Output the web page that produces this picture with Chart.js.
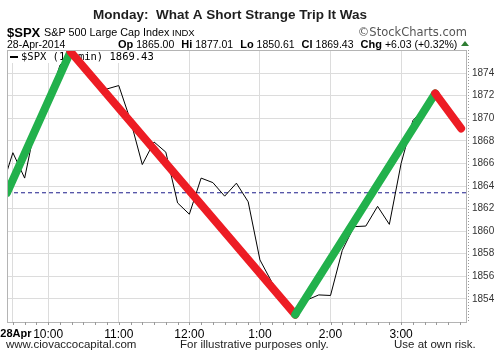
<!DOCTYPE html>
<html>
<head>
<meta charset="utf-8">
<script src="https://cdn.jsdelivr.net/npm/chart.js@4"></script>
<style>
  html, body { margin: 0; padding: 0; background: #fff; }
  #wrap { width: 499px; height: 358px; }
</style>
</head>
<body>
<div id="wrap"><canvas id="spx" width="499" height="358"></canvas></div>
<script>
// 10-min bars, x = minutes after 9:30
const barMinutes = [-5, 0, 10, 20, 30, 40, 50, 60, 70, 80, 90, 100, 110, 120, 130, 140, 150, 160, 170, 180,
  190, 200, 210, 220, 230, 240, 250, 260, 270, 280, 290, 300, 310, 320, 330, 340, 350, 360, 370, 380];
const barCloses = [1865.3, 1866.95, 1864.7, 1869.8, 1871.3, 1874.7, 1875.8, 1874.6, 1873.4, 1872.6,
  1872.9, 1869.8, 1865.9, 1867.9, 1867.0, 1862.5, 1861.5, 1864.7, 1864.3, 1863.1,
  1864.25, 1862.6, 1857.45, 1855.5, 1854.0, 1852.7, 1853.9, 1854.35, 1854.3, 1858.3,
  1860.4, 1860.45, 1862.2, 1860.6, 1866.0, 1869.8, 1870.9, 1871.7, 1870.6, 1869.43];

// hand drawn swing legs (green = up, red = down)
const swingMinutes = [-5, 49, 240, 359, 381];
const swingValues = [1863.4, 1875.9, 1852.6, 1872.2, 1869.1];

const prevClose = 1863.40;

const xTickMinutes = [0, 30, 90, 150, 210, 270, 330];
const xTickLabels = ["28Apr", "10:00", "11:00", "12:00", "1:00", "2:00", "3:00"];
const yTicks = [1854, 1856, 1858, 1860, 1862, 1864, 1866, 1868, 1870, 1872, 1874];

const xMin = -5, xMax = 386;
const yMin = 1851.95, yMax = 1876.05;

const title = "Monday:  What A Short Strange Trip It Was";
const statLabels = ["Op", "Hi", "Lo", "Cl", "Chg"];
const statValues = ["1865.00", "1877.01", "1850.61", "1869.43", "+6.03 (+0.32%)"];
const legendText = "$SPX (10-min) 1869.43";
const footer = ["www.ciovaccocapital.com", "For illustrative purposes only.", "Use at own risk."];

const SANS = '"Liberation Sans", Arial, sans-serif';

const toPoints = (xs, ys) => xs.map((x, i) => ({ x: x, y: ys[i] }));

const decorations = {
  id: "decorations",
  beforeDatasetsDraw(chart) {
    const { ctx, chartArea: a } = chart;
    ctx.save();
    ctx.font = '10.5px "DejaVu Sans Mono", monospace';
    const w = ctx.measureText(legendText).width;
    ctx.fillStyle = "#fff";
    ctx.fillRect(a.left + 1, a.top + 1, w + 18, 12);
    ctx.fillStyle = "#000";
    ctx.fillRect(a.left + 3, a.top + 6, 8, 2);
    ctx.textBaseline = "middle";
    ctx.fillText(legendText, a.left + 14, a.top + 7);
    ctx.restore();
  },
  afterDraw(chart) {
    const { ctx, chartArea: a } = chart;
    const xs = chart.scales.x;
    ctx.save();

    // plot frame
    ctx.strokeStyle = "#b4b4b4";
    ctx.lineWidth = 1;
    ctx.strokeRect(a.left + 0.5, a.top + 0.5, a.right - a.left - 1, a.bottom - a.top);

    // minor ticks under the time axis
    ctx.strokeStyle = "#999";
    ctx.beginPath();
    barMinutes.forEach(m => {
      if (m < 0) return;
      const px = Math.round(xs.getPixelForValue(m)) + 0.5;
      ctx.moveTo(px, a.bottom);
      ctx.lineTo(px, a.bottom + 3);
    });
    ctx.stroke();

    // dotted edge on the price side
    ctx.setLineDash([1, 2]);
    ctx.beginPath();
    ctx.moveTo(a.right + 1.5, a.top);
    ctx.lineTo(a.right + 1.5, a.bottom);
    ctx.stroke();
    ctx.setLineDash([]);

    // title
    ctx.fillStyle = "#1e1e1e";
    ctx.textBaseline = "alphabetic";
    ctx.textAlign = "center";
    ctx.font = "bold 13.5px " + SANS;
    ctx.fillText(title, 230, 19);

    // symbol line
    ctx.textAlign = "left";
    ctx.fillStyle = "#000";
    ctx.font = "bold 13px " + SANS;
    ctx.fillText("$SPX", 7, 37);
    ctx.font = "10.8px " + SANS;
    ctx.fillText("S&P 500 Large Cap Index", 44, 36);
    ctx.font = "9.5px " + SANS;
    ctx.fillText("INDX", 172, 36);

    ctx.fillStyle = "#555";
    ctx.font = '11.5px "DejaVu Sans", sans-serif';
    ctx.textAlign = "right";
    ctx.fillText("\u00A9StockCharts.com", 467, 36);

    // date + stats line
    ctx.textAlign = "left";
    ctx.fillStyle = "#000";
    ctx.font = "10.5px " + SANS;
    ctx.fillText("28-Apr-2014", 7, 48);
    let x = 118;
    statLabels.forEach((lab, i) => {
      ctx.font = "bold 11px " + SANS;
      ctx.fillText(lab, x, 48);
      x += ctx.measureText(lab).width + 3;
      ctx.font = "10.5px " + SANS;
      ctx.fillText(statValues[i], x, 48);
      x += ctx.measureText(statValues[i]).width + 7;
    });
    ctx.fillStyle = "#2e7d32";
    ctx.beginPath();
    ctx.moveTo(461, 46);
    ctx.lineTo(465, 41);
    ctx.lineTo(469, 46);
    ctx.closePath();
    ctx.fill();

    // footer
    ctx.fillStyle = "#222";
    ctx.font = "11.5px " + SANS;
    ctx.fillText(footer[0], 6, 348);
    ctx.fillText(footer[1], 180, 348);
    ctx.fillText(footer[2], 394, 348);
    ctx.restore();
  }
};

new Chart(document.getElementById("spx"), {
  type: "line",
  data: {
    datasets: [
      {
        label: "swing",
        data: toPoints(swingMinutes, swingValues),
        borderWidth: 8,
        borderCapStyle: "round",
        borderJoinStyle: "round",
        pointRadius: 0,
        segment: {
          borderColor: c => (c.p1.parsed.y > c.p0.parsed.y ? "#22b14c" : "#ed1c24")
        }
      },
      {
        label: "$SPX",
        data: toPoints(barMinutes, barCloses),
        borderColor: "#000",
        borderWidth: 1,
        pointRadius: 0,
        tension: 0
      },
      {
        label: "prev close",
        data: toPoints([xMin, xMax], [prevClose, prevClose]),
        borderColor: "#1c1c8a",
        borderWidth: 1,
        borderDash: [4, 3],
        pointRadius: 0
      }
    ]
  },
  options: {
    responsive: false,
    animation: false,
    layout: { padding: { left: 7, top: 50, right: 0, bottom: 0 } },
    plugins: { legend: { display: false }, tooltip: { enabled: false } },
    scales: {
      x: {
        type: "linear",
        min: xMin,
        max: xMax,
        afterBuildTicks: s => { s.ticks = xTickMinutes.map(v => ({ value: v })); },
        afterFit: s => {
          s.height = 36;
          s.paddingLeft = 0;
          s.paddingRight = 0;
        },
        border: { display: false },
        grid: { color: "#dcdcdc", drawTicks: false },
        ticks: {
          padding: 5,
          maxRotation: 0,
          autoSkip: false,
          color: "#000",
          font: c => (c.index === 0
            ? { family: SANS, size: 11, weight: "bold" }
            : { family: SANS, size: 12, weight: "normal" }),
          callback: (v, i) => (i === 0 ? "  " : "") + xTickLabels[i]
        }
      },
      y: {
        type: "linear",
        position: "right",
        min: yMin,
        max: yMax,
        afterBuildTicks: s => { s.ticks = yTicks.map(v => ({ value: v })); },
        afterFit: s => {
          s.width = 32;
          s.paddingTop = 0;
          s.paddingBottom = 0;
        },
        border: { display: false },
        grid: { color: "#dcdcdc", drawTicks: false },
        ticks: {
          padding: 5,
          color: "#333",
          font: { family: SANS, size: 10 },
          callback: v => String(v)
        }
      }
    }
  },
  plugins: [decorations]
});
</script>
</body>
</html>
